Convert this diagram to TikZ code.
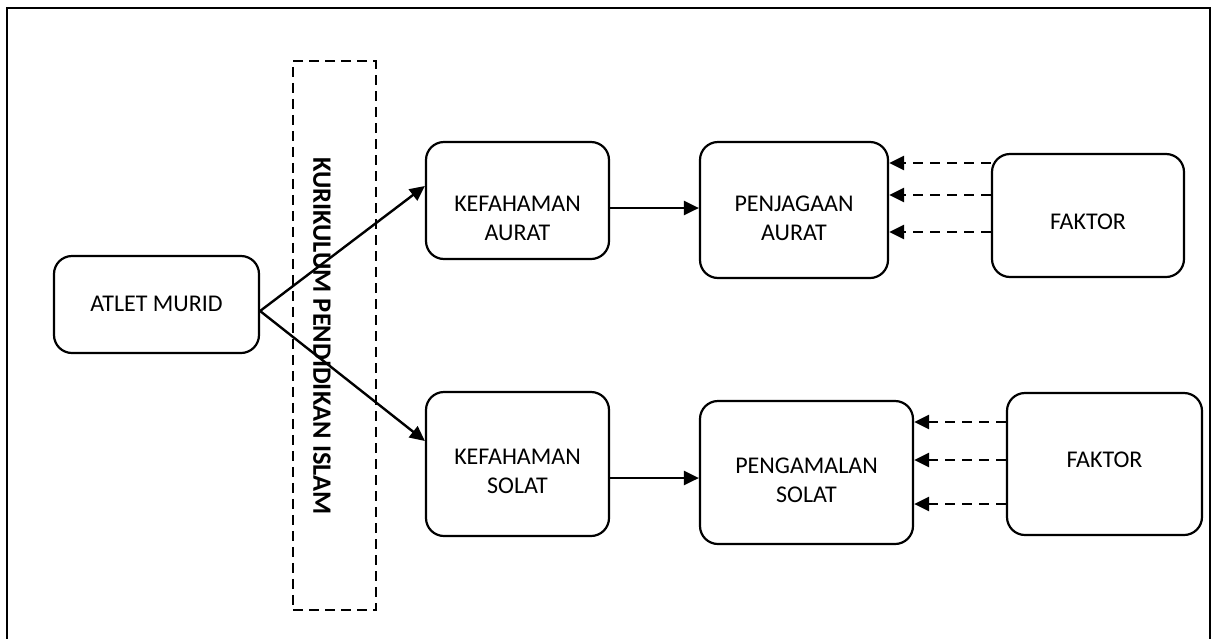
\documentclass[tikz,border=0pt]{standalone}
\usepackage{fontspec}
\setmainfont{Carlito}
\usetikzlibrary{arrows.meta}
\begin{document}
\begin{tikzpicture}[x=1pt,y=-1pt,
  box/.style={draw,line width=2.2pt,rounded corners=18pt,inner sep=0pt},
  lbl/.style={align=center,font=\fontsize{24}{29}\selectfont,inner sep=0pt},
  conn/.style={line width=2.4pt,-{Triangle[length=15pt,width=14pt]}},
  dconn/.style={line width=2.6pt,dash pattern=on 10pt off 7pt,-{Triangle[length=15pt,width=14pt]}}]
\useasboundingbox (0,0) rectangle (1216,638);
% frame
\draw[line width=2.6pt] (7,700) -- (7,8) -- (1210,8) -- (1210,700);
% dashed curriculum box
\node[draw,dash pattern=on 10pt off 6pt,line width=1.8pt,minimum width=82.6pt,minimum height=549pt,inner sep=0pt] (kur) at (334.3,335.5) {};
\node[rotate=-90,font=\bfseries\fontsize{26.5}{30}\selectfont,inner sep=0pt] (kurT) at (322,336) {KURIKULUM PENDIDIKAN ISLAM};
% boxes
\node[box,minimum width=205pt,minimum height=97pt] (atlet) at (156.5,304.5) {};
\node[lbl] (atletT) at (156.5,304) {ATLET MURID};
\node[box,minimum width=183pt,minimum height=117pt] (kaur) at (517.5,200.5) {};
\node[lbl] (kaurT) at (517.5,218) {KEFAHAMAN\\AURAT};
\node[box,minimum width=188pt,minimum height=136pt] (pjg) at (794,210) {};
\node[lbl] (pjgT) at (794,218.5) {PENJAGAAN\\AURAT};
\node[box,minimum width=192pt,minimum height=123pt] (fak1) at (1088,215.5) {};
\node[lbl] (fak1T) at (1088,222) {FAKTOR};
\node[box,minimum width=183pt,minimum height=144pt] (ksol) at (517.5,464) {};
\node[lbl] (ksolT) at (517.5,471.5) {KEFAHAMAN\\SOLAT};
\node[box,minimum width=213pt,minimum height=143pt] (pgm) at (806.5,472.5) {};
\node[lbl] (pgmT) at (806.5,480.5) {PENGAMALAN\\SOLAT};
\node[box,minimum width=195pt,minimum height=142pt] (fak2) at (1104.5,464) {};
\node[lbl] (fak2T) at (1104.5,460) {FAKTOR};
% connectors
\draw[conn] (atlet.east |- 0,311) -- (kaur.west |- 0,186);
\draw[conn] (atlet.east |- 0,311) -- (ksol.west |- 0,441);
\draw[conn] (kaur.east |- 0,208) -- (pjg.west |- 0,208);
\draw[conn] (ksol.east |- 0,478) -- (pgm.west |- 0,478);
\draw[dconn] (fak1.west |- 0,163) -- (pjg.east |- 0,163);
\draw[dconn] (fak1.west |- 0,195) -- (pjg.east |- 0,195);
\draw[dconn] (fak1.west |- 0,232) -- (pjg.east |- 0,232);
\draw[dconn] (fak2.west |- 0,422) -- (pgm.east |- 0,422);
\draw[dconn] (fak2.west |- 0,460) -- (pgm.east |- 0,460);
\draw[dconn] (fak2.west |- 0,504) -- (pgm.east |- 0,504);
\end{tikzpicture}
\end{document}
